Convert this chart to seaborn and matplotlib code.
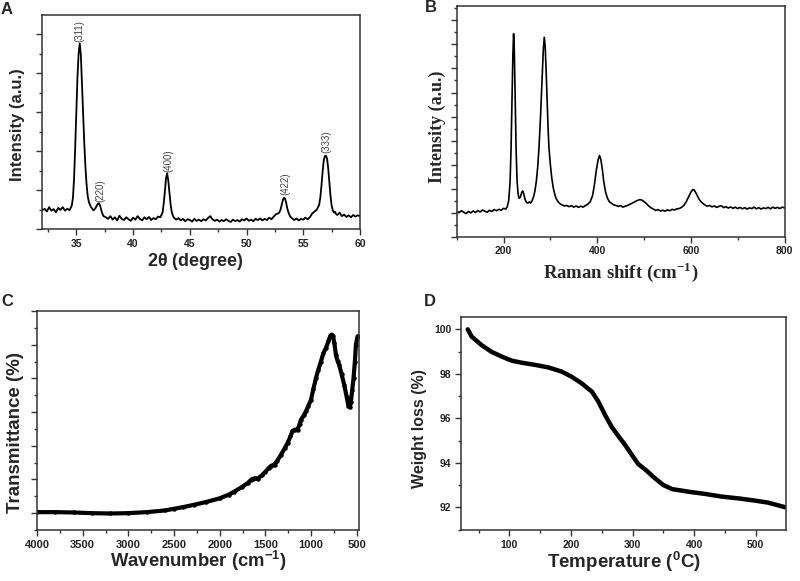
import matplotlib
matplotlib.use("Agg")
import matplotlib.pyplot as plt
from matplotlib.ticker import MultipleLocator, NullFormatter
import seaborn as sns

# ---- (A) XRD pattern ----
xrd_2theta = [32.0, 32.2, 32.4, 32.6, 32.8, 33.0, 33.2, 33.4, 33.6, 33.8, 34.0, 34.2, 34.4, 34.6,
              34.7, 34.8, 34.9, 35.0, 35.1, 35.2, 35.3, 35.4, 35.5, 35.6, 35.7, 35.8, 35.9, 36.0,
              36.1, 36.2, 36.3, 36.4, 36.5, 36.6, 36.7, 36.8, 36.9, 37.0, 37.1, 37.2, 37.3, 37.4,
              37.6, 37.8, 38.0, 38.2, 38.4, 38.6, 38.8, 39.0, 39.2, 39.4, 39.6, 39.8, 40.0, 40.2,
              40.4, 40.6, 40.8, 41.0, 41.2, 41.4, 41.6, 41.8, 42.0, 42.2, 42.4, 42.6, 42.7, 42.8,
              42.9, 43.0, 43.1, 43.2, 43.3, 43.4, 43.5, 43.6, 43.8, 44.0, 44.2, 44.4, 44.6, 44.8,
              45.0, 45.2, 45.4, 45.6, 45.8, 46.0, 46.2, 46.4, 46.6, 46.8, 47.0, 47.2, 47.4, 47.6,
              47.8, 48.0, 48.2, 48.4, 48.6, 48.8, 49.0, 49.2, 49.4, 49.6, 49.8, 50.0, 50.2, 50.4,
              50.6, 50.8, 51.0, 51.2, 51.4, 51.6, 51.8, 52.0, 52.2, 52.4, 52.6, 52.8, 52.9, 53.0,
              53.1, 53.2, 53.3, 53.4, 53.5, 53.6, 53.7, 53.8, 53.9, 54.0, 54.2, 54.4, 54.6, 54.8,
              55.0, 55.2, 55.4, 55.6, 55.8, 56.0, 56.2, 56.3, 56.4, 56.5, 56.6, 56.7, 56.8, 56.9,
              57.0, 57.1, 57.2, 57.3, 57.4, 57.5, 57.6, 57.7, 57.8, 57.9, 58.0, 58.2, 58.4, 58.6,
              58.8, 59.0, 59.2, 59.4, 59.6, 59.8, 60.0]
xrd_intensity = [480, 520, 450, 560, 470, 510, 430, 540, 490, 560, 470, 520, 480, 600,
                 800, 1300, 2100, 3000, 3900, 4500, 4760, 4450, 3700, 2900, 2200, 1600, 1150, 850,
                 700, 620, 560, 520, 480, 500, 540, 600, 650, 660, 600, 480, 390, 330,
                 300, 260, 330, 240, 300, 220, 340, 260, 230, 300, 250, 210, 290, 240,
                 330, 260, 220, 300, 250, 310, 230, 280, 250, 320, 300, 420, 650, 950,
                 1300, 1430, 1250, 950, 650, 450, 350, 290, 240, 280, 220, 260, 200, 250,
                 230, 190, 260, 210, 240, 200, 250, 220, 280, 330, 250, 210, 240, 190,
                 230, 200, 250, 210, 180, 240, 200, 230, 190, 250, 220, 270, 210, 240,
                 200, 260, 230, 270, 220, 260, 230, 290, 250, 320, 380, 400, 430, 500,
                 620, 740, 800, 780, 660, 520, 420, 350, 300, 280, 230, 270, 220, 260,
                 240, 290, 250, 310, 400, 450, 500, 560, 620, 800, 1100, 1450, 1750, 1870,
                 1880, 1800, 1550, 1200, 850, 600, 480, 420, 440, 380, 360, 420, 330, 370,
                 310, 350, 300, 360, 320, 350, 330]
xrd_planes = ["(311)", "(220)", "(400)", "(422)", "(333)"]
plane_pos = [35.3, 37.15, 43.1, 53.45, 57.0]
plane_top = [4800, 700, 1470, 860, 1950]

# ---- (B) Raman spectrum ----
raman_shift = [100, 105, 110, 115, 120, 125, 130, 135, 140, 145, 150, 155, 160, 165, 170, 175,
               180, 185, 190, 195, 200, 205, 208, 211, 214, 216, 218, 220, 221.5, 223, 225, 227,
               229, 231, 233, 236, 239, 241, 243, 246, 249, 252, 255, 258, 261, 264, 267, 270,
               273, 276, 279, 282, 285, 287, 289, 291, 293, 295, 297, 300, 303, 306, 309, 312,
               316, 320, 325, 330, 335, 340, 345, 350, 355, 360, 365, 370, 375, 380, 385, 390,
               394, 398, 402, 405, 408, 411, 414, 418, 422, 426, 430, 435, 440, 445, 450, 455,
               460, 465, 470, 475, 480, 485, 490, 495, 500, 505, 510, 515, 520, 525, 530, 535,
               540, 545, 550, 555, 560, 565, 570, 575, 580, 585, 590, 595, 600, 604, 607, 610,
               614, 618, 622, 626, 630, 635, 640, 645, 650, 655, 660, 665, 670, 675, 680, 685,
               690, 695, 700, 705, 710, 715, 720, 725, 730, 735, 740, 745, 750, 755, 760, 765,
               770, 775, 780, 785, 790, 795, 800]
raman_intensity = [1060, 1000, 1080, 1020, 960, 1050, 990, 1070, 1010, 1090, 1030, 1110, 1060, 1020, 1100, 1050,
                   1130, 1080, 1140, 1100, 1180, 1150, 1250, 1500, 2300, 3600, 5500, 7600, 8450, 7800, 5600, 3500,
                   2300, 1800, 1600, 1650, 1850, 1900, 1800, 1550, 1430, 1400, 1450, 1400, 1500, 1650, 1900, 2300,
                   2900, 3800, 5000, 6400, 7800, 8300, 7900, 6900, 5700, 4600, 3700, 3000, 2450, 2050, 1800, 1600,
                   1470, 1380, 1320, 1280, 1300, 1250, 1290, 1230, 1280, 1220, 1270, 1230, 1300, 1350, 1450, 1700,
                   2150, 2750, 3200, 3380, 3200, 2800, 2300, 1850, 1600, 1450, 1400, 1330, 1300, 1260, 1290, 1230,
                   1270, 1300, 1350, 1400, 1450, 1500, 1540, 1530, 1460, 1380, 1280, 1200, 1150, 1090, 1130, 1070,
                   1100, 1060, 1120, 1080, 1140, 1110, 1160, 1170, 1220, 1300, 1450, 1650, 1850, 1960, 1950, 1850,
                   1700, 1550, 1450, 1380, 1320, 1270, 1300, 1240, 1280, 1220, 1260, 1290, 1210, 1250, 1190, 1240,
                   1180, 1230, 1170, 1220, 1160, 1210, 1150, 1200, 1170, 1230, 1160, 1210, 1150, 1200, 1170, 1220,
                   1160, 1230, 1180, 1220, 1170, 1230, 1200]

# ---- (C) FTIR spectrum ----
ftir_wavenumber = [4000, 3800, 3600, 3400, 3200, 3000, 2800, 2600, 2500, 2400, 2278, 2150, 2000, 1900,
                   1840, 1760, 1695, 1660, 1640, 1610, 1585, 1540, 1500, 1460, 1439, 1415, 1400, 1370,
                   1330, 1290, 1257, 1225, 1203, 1175, 1148, 1125, 1111, 1080, 1056, 1030, 1001, 975,
                   947, 920, 892, 865, 837, 810, 790, 775, 760, 745, 728, 710, 692, 665, 637, 610,
                   590, 575, 564, 550, 535, 520, 509, 495, 490]
ftir_transmittance = [0.3, 0.3, 0.2, 0.0, -0.1, 0.0, 0.3, 0.8, 1.3, 1.8, 2.5, 3.3, 4.4, 5.5,
                      6.4, 7.7, 8.9, 9.8, 10.2, 10.3, 10.2, 11.2, 12.3, 13.5, 14.0, 14.3, 14.4, 15.6,
                      17.3, 19.2, 20.8, 22.8, 24.4, 24.8, 24.7, 26.5, 27.7, 29.0, 30.2, 31.8, 33.6, 36.8,
                      40.0, 42.6, 45.0, 47.5, 49.0, 51.0, 52.6, 53.0, 52.6, 50.5, 47.0, 45.2, 44.0, 41.2, 38.1, 34.5,
                      31.8, 31.4, 33.0, 36.5, 40.0, 45.0, 49.9, 52.0, 52.5]

# ---- (D) TGA curve ----
tga_temp = [32.5, 39, 55, 71, 88, 104, 120, 142, 163, 185, 201, 217.5, 234, 244.5, 255.4, 266,
            277, 288, 299, 309, 323, 336.5, 350, 364, 391, 418, 445, 472, 499, 520, 548]
tga_weight = [100.0, 99.67, 99.29, 98.99, 98.77, 98.59, 98.5, 98.4, 98.29, 98.1, 97.87, 97.57, 97.2,
              96.75, 96.15, 95.62, 95.2, 94.8, 94.35, 93.95, 93.64, 93.3, 93.0, 92.82, 92.7, 92.6,
              92.48, 92.4, 92.3, 92.21, 92.0]

sns.set_style("ticks")
plt.rcParams["font.family"] = ["Liberation Sans", "DejaVu Sans"]
plt.rcParams["mathtext.fontset"] = "custom"
plt.rcParams["mathtext.rm"] = "Liberation Sans:bold"
plt.rcParams["mathtext.bf"] = "Liberation Sans:bold"
plt.rcParams["mathtext.default"] = "bf"

fig = plt.figure(figsize=(8, 5.81), dpi=100)
W, H = 800, 581


def add_axes(left, top, right, bottom):
    return fig.add_axes([left / W, 1 - bottom / H, (right - left) / W, (bottom - top) / H])


def style(ax, tick_size):
    for sp in ax.spines.values():
        sp.set_linewidth(1.1)
        sp.set_color("#333333")
    ax.tick_params(which="both", direction="out", top=False, right=False, color="#333333", width=1.0)
    ax.tick_params(which="major", length=4, pad=3, labelsize=tick_size)
    ax.tick_params(which="minor", length=2.5)
    for lab in ax.get_xticklabels() + ax.get_yticklabels():
        lab.set_fontweight("bold")
        lab.set_color("#222222")


# A
axA = add_axes(42.3, 15, 360, 229)
sns.lineplot(x=xrd_2theta, y=xrd_intensity, ax=axA, color="black", linewidth=1.3, sort=False)
axA.set_xlim(32, 60)
axA.set_ylim(0, 5490)
axA.xaxis.set_major_locator(MultipleLocator(5))
axA.xaxis.set_minor_locator(MultipleLocator(2.5))
axA.yaxis.set_major_locator(MultipleLocator(1000))
axA.yaxis.set_minor_locator(MultipleLocator(500))
axA.yaxis.set_major_formatter(NullFormatter())
style(axA, 7.5)
for lab, xp, yp in zip(xrd_planes, plane_pos, plane_top):
    axA.text(xp, yp, lab, rotation=90, ha="center", va="bottom", fontsize=7, color="#444444")
axA.set_ylabel("Intensity (a.u.)", fontsize=12, fontweight="bold", va="center")
axA.yaxis.set_label_coords(-0.0765, 0.49)
axA.set_xlabel(r"2$\mathregular{\theta}$ (degree)", fontsize=13, fontweight="bold", va="center")
axA.xaxis.set_label_coords(0.483, -0.153)

# B
axB = add_axes(456.7, 6, 784.5, 236.7)
sns.lineplot(x=raman_shift, y=raman_intensity, ax=axB, color="black", linewidth=1.2, sort=False)
axB.set_xlim(100, 800)
axB.set_ylim(0, 9600)
axB.xaxis.set_major_locator(MultipleLocator(200))
axB.xaxis.set_minor_locator(MultipleLocator(100))
axB.yaxis.set_major_locator(MultipleLocator(1000))
axB.yaxis.set_minor_locator(MultipleLocator(500))
axB.yaxis.set_major_formatter(NullFormatter())
style(axB, 7.5)
axB.set_ylabel("Intensity (a.u.)", fontsize=13, fontweight="bold", family="Liberation Serif", va="center")
axB.yaxis.set_label_coords(-0.060, 0.477)
axB.set_xlabel(r"Raman shift (cm$^{\mathregular{-1}}$)", fontsize=13.5, fontweight="bold",
               family="Liberation Serif", va="center")
axB.xaxis.set_label_coords(0.50, -0.155)

# C
axC = add_axes(37, 311, 359, 530)
sns.lineplot(x=ftir_wavenumber, y=ftir_transmittance, ax=axC, color="black", linewidth=3.0,
             marker="o", markersize=3.2, markeredgewidth=0, sort=False)
axC.set_xlim(4000, 475)
axC.set_ylim(-5, 60)
axC.xaxis.set_major_locator(MultipleLocator(500))
axC.xaxis.set_minor_locator(MultipleLocator(250))
axC.yaxis.set_major_locator(MultipleLocator(10))
axC.yaxis.set_minor_locator(MultipleLocator(5))
axC.yaxis.set_major_formatter(NullFormatter())
style(axC, 8)
axC.set_ylabel("Transmittance (%)", fontsize=13.5, fontweight="bold", va="center")
axC.yaxis.set_label_coords(-0.068, 0.445)
axC.set_xlabel(r"Wavenumber (cm$^{\mathregular{-1}}$)", fontsize=13.3, fontweight="bold", va="center")
axC.xaxis.set_label_coords(0.50, -0.141)

# D
axD = add_axes(461, 317.3, 786, 530)
sns.lineplot(x=tga_temp, y=tga_weight, ax=axD, color="black", linewidth=3.2, sort=False)
axD.set_xlim(21.6, 549)
axD.set_ylim(90.98, 100.54)
axD.xaxis.set_major_locator(MultipleLocator(100))
axD.xaxis.set_minor_locator(MultipleLocator(50))
axD.yaxis.set_major_locator(MultipleLocator(2))
axD.yaxis.set_minor_locator(MultipleLocator(1))
style(axD, 7.5)
axD.set_ylabel("Weight loss (%)", fontsize=11.5, fontweight="bold", va="center")
axD.yaxis.set_label_coords(-0.129, 0.475)
axD.set_xlabel(r"Temperature ($^{\mathregular{0}}$C)", fontsize=13.5, fontweight="bold", va="center")
axD.xaxis.set_label_coords(0.50, -0.149)

# panel letters
for letter, px, py in [("A", 7, 9), ("B", 431, 8), ("C", 7, 302), ("D", 430, 302)]:
    fig.text(px / W, 1 - py / H, letter, fontsize=12, fontweight="bold", ha="center", va="center")

fig.savefig("out.png", dpi=100, facecolor="white")
